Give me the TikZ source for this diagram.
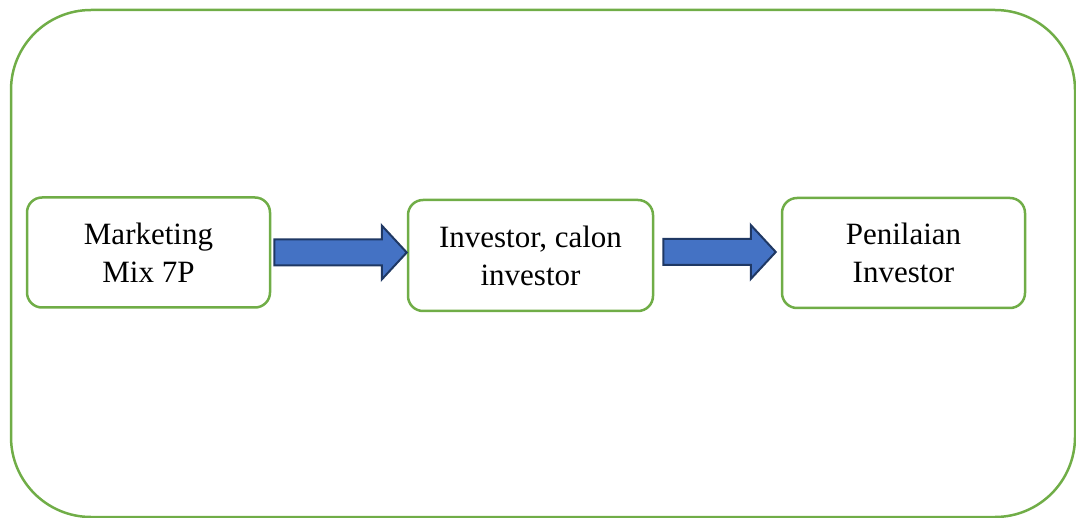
\documentclass[tikz,border=0pt]{standalone}
\usepackage{fontspec}
\setmainfont{Liberation Serif}
\usepackage{tikz}
\usetikzlibrary{calc}
\definecolor{leaf}{HTML}{70AD47}
\definecolor{flowblue}{HTML}{4472C4}
\definecolor{flowdark}{HTML}{1F3864}
\tikzset{box/.style={draw=leaf, line width=2.5pt, rounded corners=15pt,
         minimum width=243pt, minimum height=110pt, align=center,
         font=\fontsize{31}{38}\selectfont, inner sep=0pt},
         flow/.style={fill=flowblue, draw=flowdark, line width=2pt, line join=miter}}
\newcommand{\flowarrow}[2]{%
  \draw[flow] let \p1=(#1), \p2=(#2) in
    (\x1,\y1+13) -- (\x2-25,\y1+13) -- (\x2-25,\y1+27) -- (\x2,\y1)
    -- (\x2-25,\y1-27) -- (\x2-25,\y1-13) -- (\x1,\y1-13) -- cycle;}

\begin{document}
\begin{tikzpicture}[x=1pt,y=-1pt]
      \useasboundingbox (0,0) rectangle (1076,518);
      \draw[leaf, line width=2.5pt, rounded corners=80pt] (11,10) rectangle (1075,517);

      \node[box] (mix) at (148.5,252.5) {Marketing\\Mix 7P};
      \node[box, minimum width=245pt, minimum height=111pt] (inv) at (530.5,255.5) {Investor, calon\\investor};
      \node[box] (nilai) at (903.5,253) {Penilaian\\Investor};

      \coordinate (a1) at ($(mix.east)+(3,0)$);
      \coordinate (b1) at (inv.west);
      \coordinate (a2) at ($(inv.east)+(9,-3.5)$);
      \coordinate (b2) at ($(nilai.west)+(-5,0)$);
      \flowarrow{a1}{b1}
      \flowarrow{a2}{b2}
    \end{tikzpicture}
\end{document}
